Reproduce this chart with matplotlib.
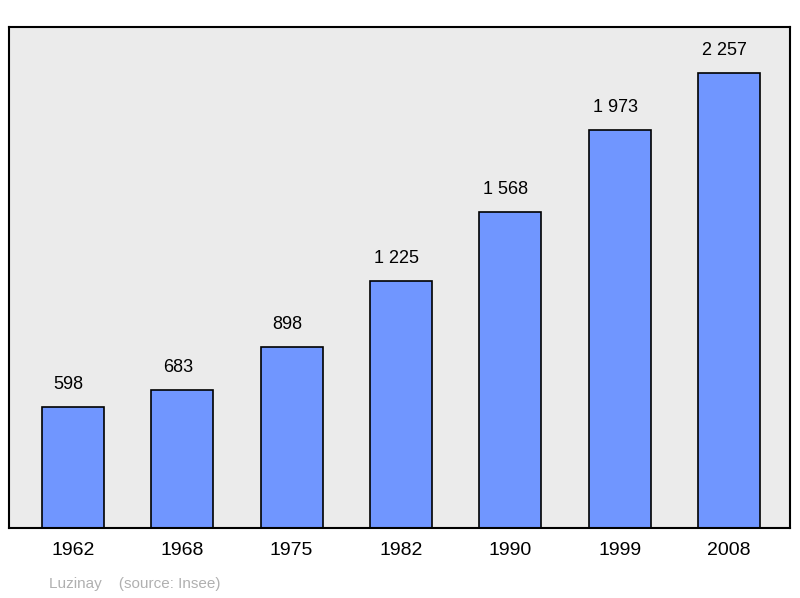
import matplotlib
matplotlib.use('Agg')
import matplotlib.pyplot as plt

plt.rcParams['font.family'] = ['Liberation Sans', 'DejaVu Sans']

# 数据
years = ['1962', '1968', '1975', '1982', '1990', '1999', '2008']
population = [598, 683, 898, 1225, 1568, 1973, 2257]
value_labels = ['598', '683', '898', '1 225', '1 568', '1 973', '2 257']

fig = plt.figure(figsize=(8.0, 5.98), dpi=100)
ax = fig.add_axes([9 / 800, 1 - 528 / 598, 781 / 800, 501 / 598])
ax.set_facecolor('#ebebeb')

x = range(len(years))
ax.bar(x, population, width=0.567, color='#7096ff', edgecolor='black', linewidth=1.2)

for i, (v, lab) in enumerate(zip(population, value_labels)):
    ax.text(i - 0.04, v + 70, lab, ha='center', va='bottom', fontsize=13)

ax.set_xlim(-0.585, 6.558)
ax.set_ylim(0, 2485)
ax.set_yticks([])
ax.set_xticks(list(x))
ax.set_xticklabels(years, fontsize=14)
ax.tick_params(axis='x', length=0, pad=10)
for s in ax.spines.values():
    s.set_linewidth(1.5)

fig.text(49 / 800, 1 - 584 / 598, 'Luzinay    (source: Insee)', fontsize=11,
         color='#b0b0b0', va='center')

fig.savefig('out.png', dpi=100)
